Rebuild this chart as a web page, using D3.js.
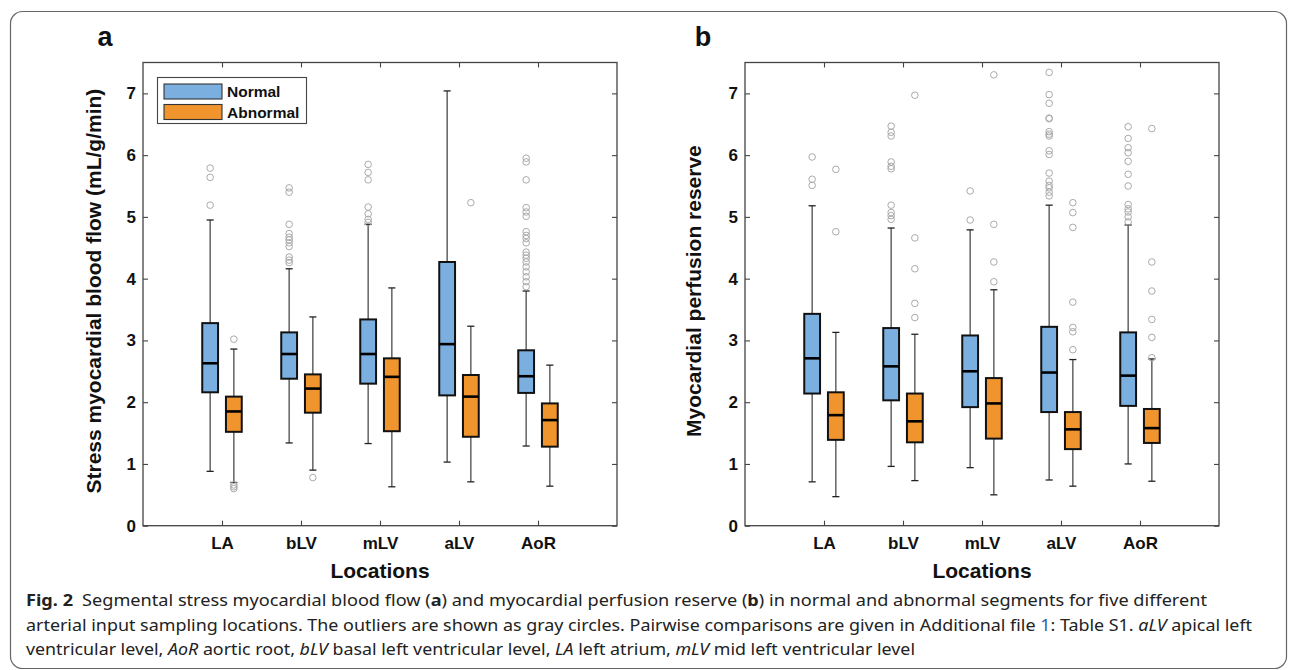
<!DOCTYPE html>
<html lang="en">
<head>
<meta charset="UTF-8">
<title>Segmental stress MBF and MPR</title>
<style>
    body { margin: 0; background: #fff; }
    svg text { font-family: 'Liberation Sans', Arial, sans-serif; }
    .cap { font-family: 'Noto Sans', sans-serif; font-size: 16px; fill: #222; }
</style>
<script src="https://d3js.org/d3.v7.min.js"></script>
</head>
<body>
<svg width="1295" height="670"></svg>
<script>
    const locations = ["LA", "bLV", "mLV", "aLV", "AoR"];
    const groups = ["Normal", "Abnormal"];
    const yTicks = [0, 1, 2, 3, 4, 5, 6, 7];

    // [lower whisker, q1, median, q3, upper whisker]
    const mbfNormal = [
        [0.88, 2.16, 2.63, 3.28, 4.95],
        [1.34, 2.38, 2.78, 3.13, 4.16],
        [1.33, 2.30, 2.78, 3.34, 4.88],
        [1.03, 2.11, 2.94, 4.27, 7.04],
        [1.29, 2.15, 2.42, 2.84, 3.80]
    ];
    const mbfAbnormal = [
        [0.70, 1.52, 1.85, 2.09, 2.86],
        [0.90, 1.83, 2.22, 2.45, 3.38],
        [0.63, 1.53, 2.41, 2.71, 3.85],
        [0.71, 1.44, 2.09, 2.44, 3.23],
        [0.64, 1.28, 1.71, 1.98, 2.60]
    ];
    const mbfNormalOut = [
        [5.79, 5.64, 5.19],
        [5.47, 5.40, 4.88, 4.73, 4.67, 4.63, 4.58, 4.52, 4.35, 4.30, 4.26],
        [5.85, 5.72, 5.60, 5.16, 5.05, 4.96, 4.91],
        [],
        [5.95, 5.89, 5.60, 5.15, 5.08, 5.01, 4.76, 4.70, 4.65, 4.58, 4.43, 4.38, 4.33, 4.27, 4.19, 4.11, 4.03, 3.95, 3.87]
    ];
    const mbfAbnormalOut = [
        [3.02, 0.66, 0.63, 0.60],
        [0.78],
        [],
        [5.23],
        []
    ];

    const mprNormal = [
        [0.71, 2.14, 2.71, 3.43, 5.18],
        [0.96, 2.03, 2.58, 3.20, 4.82],
        [0.94, 1.92, 2.50, 3.08, 4.79],
        [0.74, 1.84, 2.48, 3.22, 5.19],
        [1.00, 1.94, 2.43, 3.13, 4.87]
    ];
    const mprAbnormal = [
        [0.47, 1.39, 1.79, 2.16, 3.13],
        [0.73, 1.35, 1.69, 2.14, 3.10],
        [0.50, 1.41, 1.98, 2.39, 3.82],
        [0.64, 1.24, 1.56, 1.84, 2.69],
        [0.72, 1.34, 1.58, 1.89, 2.70]
    ];
    const mprNormalOut = [
        [5.97, 5.61, 5.51],
        [6.47, 6.37, 6.31, 5.89, 5.82, 5.78, 5.19, 5.07, 5.02, 4.96],
        [5.42, 4.95],
        [7.34, 6.98, 6.84, 6.60, 6.59, 6.38, 6.34, 6.31, 6.07, 6.01, 5.71, 5.58, 5.51, 5.47, 5.40, 5.34],
        [6.46, 6.27, 6.12, 6.04, 5.90, 5.69, 5.50, 5.20, 5.13, 5.08, 5.00, 4.92]
    ];
    const mprAbnormalOut = [
        [5.77, 4.76],
        [6.97, 4.66, 4.16, 3.60, 3.37],
        [7.30, 4.88, 4.27, 3.95],
        [5.23, 5.07, 4.83, 3.62, 3.21, 3.14, 2.85],
        [6.43, 4.27, 3.80, 3.34, 3.05, 2.72]
    ];

    const colors = { Normal: "#7bafe0", Abnormal: "#f0952e" };
    const axisColor = "#444";

    const svg = d3.select("svg");

    // outer frame
    svg.append("rect")
        .attr("x", 10.5).attr("y", 11.5)
        .attr("width", 1276).attr("height", 657)
        .attr("rx", 12).attr("ry", 12)
        .attr("fill", "none").attr("stroke", "#666").attr("stroke-width", 1.2);

    function drawPanel(opts) {
        const left = opts.left, right = opts.left + 474, top = 62.5, bottom = 525.7;
        const x = d3.scaleLinear().domain([0, 6]).range([left, right]);
        const y = d3.scaleLinear().domain([0, 7.5]).range([bottom, top]);
        const g = svg.append("g");

        // ticks on all four sides, pointing inward
        g.append("g").attr("transform", `translate(0,${bottom})`)
            .call(d3.axisBottom(x).tickValues([1, 2, 3, 4, 5]).tickFormat((d) => locations[d - 1])
                .tickSize(-5).tickPadding(11));
        g.append("g").attr("transform", `translate(0,${top})`)
            .call(d3.axisTop(x).tickValues([1, 2, 3, 4, 5]).tickFormat("").tickSize(-5));
        g.append("g").attr("transform", `translate(${left},0)`)
            .call(d3.axisLeft(y).tickValues(yTicks).tickFormat(d3.format("d")).tickSize(-5).tickPadding(7));
        g.append("g").attr("transform", `translate(${right},0)`)
            .call(d3.axisRight(y).tickValues(yTicks).tickFormat("").tickSize(-5));
        g.selectAll(".domain").remove();
        g.selectAll(".tick line").attr("stroke", axisColor).attr("stroke-width", 1.1);
        g.selectAll(".tick text")
            .attr("fill", "#111")
            .style("font-size", "17px")
            .style("font-weight", "700");

        g.append("rect")
            .attr("x", left).attr("y", top)
            .attr("width", right - left).attr("height", bottom - top)
            .attr("fill", "none").attr("stroke", axisColor).attr("stroke-width", 1.3);

        const boxW = x(0.2) - x(0);
        const capW = x(0.09) - x(0);

        groups.forEach((grp, gi) => {
            const stats = gi === 0 ? opts.normal : opts.abnormal;
            const outs = gi === 0 ? opts.normalOut : opts.abnormalOut;
            const off = gi === 0 ? -0.15 : 0.15;

            const bg = g.append("g").selectAll("g")
                .data(stats)
                .join("g")
                .attr("transform", (d, i) => `translate(${x(i + 1 + off)},0)`);

            bg.append("line")
                .attr("y1", (d) => y(d[0])).attr("y2", (d) => y(d[1]))
                .attr("stroke", "#4a4a4a").attr("stroke-width", 1.3);
            bg.append("line")
                .attr("y1", (d) => y(d[3])).attr("y2", (d) => y(d[4]))
                .attr("stroke", "#4a4a4a").attr("stroke-width", 1.3);
            bg.append("line")
                .attr("x1", -capW / 2).attr("x2", capW / 2)
                .attr("y1", (d) => y(d[0])).attr("y2", (d) => y(d[0]))
                .attr("stroke", "#222").attr("stroke-width", 1.3);
            bg.append("line")
                .attr("x1", -capW / 2).attr("x2", capW / 2)
                .attr("y1", (d) => y(d[4])).attr("y2", (d) => y(d[4]))
                .attr("stroke", "#222").attr("stroke-width", 1.3);
            bg.append("rect")
                .attr("x", -boxW / 2).attr("width", boxW)
                .attr("y", (d) => y(d[3])).attr("height", (d) => y(d[1]) - y(d[3]))
                .attr("fill", colors[grp]).attr("stroke", "#111").attr("stroke-width", 2);
            bg.append("line")
                .attr("x1", -boxW / 2).attr("x2", boxW / 2)
                .attr("y1", (d) => y(d[2])).attr("y2", (d) => y(d[2]))
                .attr("stroke", "#000").attr("stroke-width", 2.6);

            bg.each(function(d, i) {
                d3.select(this).selectAll("circle")
                    .data(outs[i])
                    .join("circle")
                    .attr("cx", 0).attr("cy", (v) => y(v)).attr("r", 3.3)
                    .attr("fill", "none").attr("stroke", "#aaa").attr("stroke-width", 1);
            });
        });

        // axis titles and panel letter
        svg.append("text")
            .attr("transform", `translate(${opts.yLabelX},${(top + bottom) / 2 - 3}) rotate(-90)`)
            .attr("text-anchor", "middle")
            .style("font-size", "21px").style("font-weight", "700").attr("fill", "#111")
            .text(opts.yLabel);
        svg.append("text")
            .attr("x", (left + right) / 2).attr("y", 578)
            .attr("text-anchor", "middle")
            .style("font-size", "21px").style("font-weight", "700").attr("fill", "#111")
            .text("Locations");
        svg.append("text")
            .attr("x", opts.letterX).attr("y", 46)
            .attr("text-anchor", "middle")
            .style("font-size", "27px").style("font-weight", "700").attr("fill", "#111")
            .text(opts.letter);
    }

    drawPanel({
        left: 143, letter: "a", letterX: 105, yLabelX: 101,
        yLabel: "Stress myocardial blood flow (mL/g/min)",
        normal: mbfNormal, abnormal: mbfAbnormal,
        normalOut: mbfNormalOut, abnormalOut: mbfAbnormalOut
    });
    drawPanel({
        left: 745, letter: "b", letterX: 703, yLabelX: 701,
        yLabel: "Myocardial perfusion reserve",
        normal: mprNormal, abnormal: mprAbnormal,
        normalOut: mprNormalOut, abnormalOut: mprAbnormalOut
    });

    // legend
    const legend = svg.append("g");
    legend.append("rect")
        .attr("x", 157.5).attr("y", 77.5).attr("width", 149).attr("height", 46)
        .attr("fill", "#fff").attr("stroke", axisColor).attr("stroke-width", 1.1);
    groups.forEach((grp, i) => {
        legend.append("rect")
            .attr("x", 164).attr("y", 84 + i * 20.5).attr("width", 58).attr("height", 15)
            .attr("fill", colors[grp]).attr("stroke", "#333").attr("stroke-width", 1.1);
        legend.append("text")
            .attr("x", 227).attr("y", 97 + i * 20.5)
            .style("font-size", "15.5px").style("font-weight", "700").attr("fill", "#111")
            .text(grp);
    });

    // caption
    const l1 = svg.append("text").attr("class", "cap").attr("x", 26).attr("y", 606)
        .attr("textLength", 1181).attr("lengthAdjust", "spacingAndGlyphs");
    l1.append("tspan").style("font-weight", "700").text("Fig. 2");
    l1.append("tspan").text("\u2002Segmental stress myocardial blood flow (");
    l1.append("tspan").style("font-weight", "700").text("a");
    l1.append("tspan").text(") and myocardial perfusion reserve (");
    l1.append("tspan").style("font-weight", "700").text("b");
    l1.append("tspan").text(") in normal and abnormal segments for five different");

    const l2 = svg.append("text").attr("class", "cap").attr("x", 26).attr("y", 631)
        .attr("textLength", 1226).attr("lengthAdjust", "spacingAndGlyphs");
    l2.append("tspan").text("arterial input sampling locations. The outliers are shown as gray circles. Pairwise comparisons are given in Additional file ");
    l2.append("tspan").attr("fill", "#2f5fb3").text("1");
    l2.append("tspan").text(": Table S1. ");
    l2.append("tspan").style("font-style", "italic").text("aLV");
    l2.append("tspan").text(" apical left");

    const l3 = svg.append("text").attr("class", "cap").attr("x", 26).attr("y", 655)
        .attr("textLength", 889).attr("lengthAdjust", "spacingAndGlyphs");
    l3.append("tspan").text("ventricular level, ");
    l3.append("tspan").style("font-style", "italic").text("AoR");
    l3.append("tspan").text(" aortic root, ");
    l3.append("tspan").style("font-style", "italic").text("bLV");
    l3.append("tspan").text(" basal left ventricular level, ");
    l3.append("tspan").style("font-style", "italic").text("LA");
    l3.append("tspan").text(" left atrium, ");
    l3.append("tspan").style("font-style", "italic").text("mLV");
    l3.append("tspan").text(" mid left ventricular level");
</script>
</body>
</html>
